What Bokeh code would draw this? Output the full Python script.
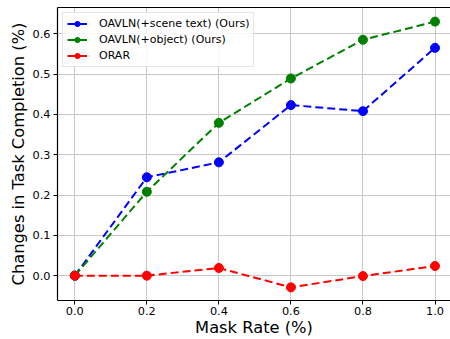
from bokeh.plotting import figure
from bokeh.models import Range1d, FixedTicker, PrintfTickFormatter, LinearAxis, Legend, LegendItem
from bokeh.embed import file_html
from bokeh.resources import INLINE

mask_rate = [0.0, 0.2, 0.4, 0.6, 0.8, 1.0]
scene_text = [0.0, 0.244, 0.281, 0.423, 0.408, 0.565]
object_vals = [0.0, 0.208, 0.379, 0.489, 0.585, 0.630]
orar = [0.0, 0.0, 0.019, -0.029, -0.001, 0.024]

x_ticks = [0.0, 0.2, 0.4, 0.6, 0.8, 1.0]
y_ticks = [0.0, 0.1, 0.2, 0.3, 0.4, 0.5, 0.6]

FONT = "DejaVu Sans"
X0, X1 = -0.048, 1.043
Y0, Y1 = -0.0616, 0.665

p = figure(width=450, height=339, output_backend="svg", toolbar_location=None,
           x_range=Range1d(X0, X1), y_range=Range1d(Y0, Y1),
           min_border_left=57, min_border_right=0, min_border_top=7, min_border_bottom=0,
           x_axis_label="Mask Rate (%)", y_axis_label="Changes in Task Completion (%)")
p.outline_line_color = None
p.background_fill_color = "white"
p.border_fill_color = "white"

for ax in (p.xaxis[0], p.yaxis[0]):
    ax.axis_line_color = "black"
    ax.axis_line_width = 1.2
    ax.major_tick_line_color = "black"
    ax.major_tick_in = 0
    ax.major_tick_out = 4
    ax.minor_tick_line_color = None
    ax.major_label_text_font = FONT
    ax.major_label_text_font_size = "11.3px"
    ax.major_label_text_color = "black"
    ax.axis_label_text_font = FONT
    ax.axis_label_text_font_size = "16.3px"
    ax.axis_label_text_font_style = "normal"
    ax.axis_label_text_color = "black"
    ax.major_label_standoff = 2
    ax.axis_label_standoff = 0

p.yaxis.major_label_standoff = 3
p.yaxis.axis_label_standoff = 2

p.xaxis.ticker = FixedTicker(ticks=x_ticks)
p.yaxis.ticker = FixedTicker(ticks=y_ticks)
p.xaxis.formatter = PrintfTickFormatter(format="%.1f")
p.yaxis.formatter = PrintfTickFormatter(format="%.1f")

top = LinearAxis(axis_line_color="black", axis_line_width=1.2,
                 major_tick_line_color=None, minor_tick_line_color=None,
                 major_label_text_font_size="0px", major_label_standoff=0,
                 major_tick_out=0, major_tick_in=0)
top.ticker = FixedTicker(ticks=[])
p.add_layout(top, "above")

p.xgrid.grid_line_color = "#c8c8c8"
p.ygrid.grid_line_color = "#c8c8c8"
p.xgrid.grid_line_width = 1
p.ygrid.grid_line_width = 1

series = [
    ("OAVLN(+scene text) (Ours)", scene_text, "#0000ff"),
    ("OAVLN(+object) (Ours)", object_vals, "#008000"),
    ("ORAR", orar, "#ff0000"),
]
items = []
for label, ys, color in series:
    ln = p.line(mask_rate, ys, line_color=color, line_width=2, line_dash="8 4")
    sc = p.scatter(mask_rate, ys, size=9, marker="circle", fill_color=color, line_color=color)
    items.append(LegendItem(label=label, renderers=[ln, sc]))

legend = Legend(items=items, location="top_left")
legend.label_text_font = FONT
legend.label_text_font_size = "11px"
legend.label_text_color = "black"
legend.border_line_color = "#cccccc"
legend.border_line_width = 1
legend.background_fill_alpha = 0.85
legend.margin = 5
legend.padding = 4
legend.spacing = 3
legend.glyph_width = 20
legend.glyph_height = 13
legend.label_height = 13
legend.label_standoff = 12
p.add_layout(legend, "center")

open("out.html", "w").write(file_html(p, INLINE))
